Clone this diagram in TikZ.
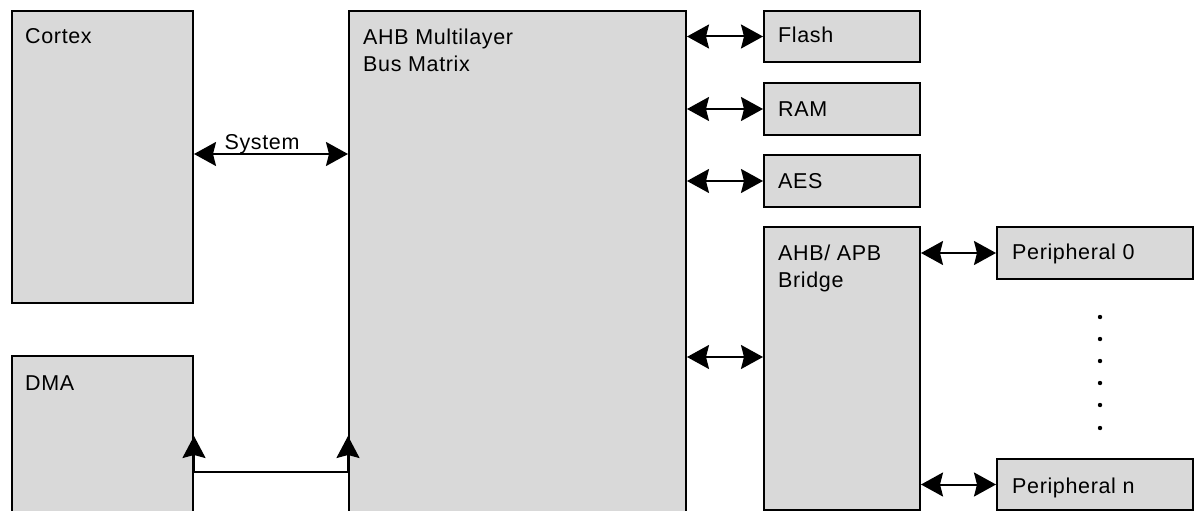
\documentclass[tikz,border=0pt]{standalone}
\usepackage{fontspec}
\setmainfont[LetterSpace=3]{Liberation Sans}
\usetikzlibrary{arrows.meta}
\definecolor{boxgray}{HTML}{D9D9D9}
\begin{document}
\begin{tikzpicture}[x=1pt,y=-1pt,
  font=\fontsize{21.5}{26}\selectfont,
  blk/.style={draw=black, line width=2pt, fill=boxgray, rectangle, inner sep=0pt, anchor=north west},
  lbl/.style={anchor=base west, inner sep=0pt},
  biarrow/.style={line width=2pt, {Stealth[length=22pt,width=24pt,inset=3pt]}-{Stealth[length=22pt,width=24pt,inset=3pt]}},
  uparrow/.style={line width=2pt, -{Stealth[length=22pt,width=23pt,inset=3pt]}}]
\useasboundingbox (0,0) rectangle (1204,511);
\clip (0,0) rectangle (1204,511);
% blocks
\node[blk, minimum width=181pt, minimum height=292pt] (cortex) at (11,10) {};
\node[blk, minimum width=181pt, minimum height=180pt] (dma) at (11,355) {};
\node[blk, minimum width=337pt, minimum height=525pt] (ahb) at (348,10) {};
\node[blk, minimum width=156pt, minimum height=51pt] (flash) at (763,10) {};
\node[blk, minimum width=156pt, minimum height=52pt] (ram) at (763,82) {};
\node[blk, minimum width=156pt, minimum height=52pt] (aes) at (763,154) {};
\node[blk, minimum width=156pt, minimum height=283pt] (bridge) at (763,226) {};
\node[blk, minimum width=196pt, minimum height=52pt] (p0) at (996,226) {};
\node[blk, minimum width=196pt, minimum height=51pt] (pn) at (996,458) {};
% labels
\node[lbl] (cortexT) at ([shift={(14,34)}]cortex.north west) {Cortex};
\node[lbl] (dmaT) at ([shift={(14,35)}]dma.north west) {DMA};
\node[lbl] (ahbT1) at ([shift={(15,35)}]ahb.north west) {AHB Multilayer};
\node[lbl] (ahbT2) at ([shift={(15,61)}]ahb.north west) {Bus Matrix};
\node[lbl] (flashT) at ([shift={(15,33)}]flash.north west) {Flash};
\node[lbl] (ramT) at ([shift={(15,34)}]ram.north west) {RAM};
\node[lbl] (aesT) at ([shift={(15,34)}]aes.north west) {AES};
\node[lbl] (bridgeT1) at ([shift={(15,34)}]bridge.north west) {AHB/ APB};
\node[lbl] (bridgeT2) at ([shift={(15,61)}]bridge.north west) {Bridge};
\node[lbl] (p0T) at ([shift={(16,33)}]p0.north west) {Peripheral 0};
\node[lbl] (pnT) at ([shift={(16,35)}]pn.north west) {Peripheral n};
% connector heights
\coordinate (sysy) at (0,154);
\coordinate (bry) at (0,357);
\coordinate (dmay) at (0,472);
\coordinate (upy) at (0,436);
% connectors
\draw[biarrow] (cortex.east |- sysy) -- node[inner sep=0pt, anchor=base, yshift=5pt, xshift=-9pt] (sysT) {System} (ahb.west |- sysy);
\draw[biarrow] (ahb.east |- flash.west) -- (flash.west);
\draw[biarrow] (ahb.east |- ram.west) -- (ram.west);
\draw[biarrow] (ahb.east |- aes.west) -- (aes.west);
\draw[biarrow] (ahb.east |- bry) -- (bridge.west |- bry);
\draw[biarrow] (bridge.east |- p0.west) -- (p0.west);
\draw[biarrow] (bridge.east |- pn.west) -- (pn.west);
\draw[line width=2pt] (dma.east |- dmay) -- (ahb.west |- dmay);
\draw[uparrow] (dma.east |- dmay) -- (dma.east |- upy);
\draw[uparrow] (ahb.west |- dmay) -- (ahb.west |- upy);
% dots
\foreach \yy in {317,339,361,383,405,428} \fill (1100,\yy) circle (2.2pt);
\end{tikzpicture}
\end{document}
